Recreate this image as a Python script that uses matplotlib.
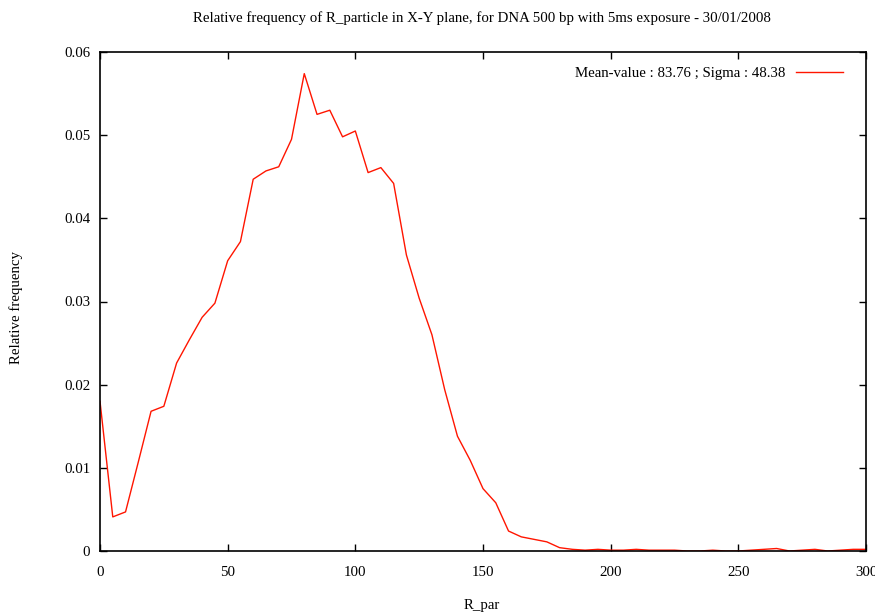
import numpy as np
import matplotlib
matplotlib.use('Agg')
import matplotlib.pyplot as plt

# R_par bins (step 5) and relative frequency
r_par = list(range(0, 305, 5))
rel_freq = [0.0180, 0.0041, 0.0047, 0.0107, 0.0168, 0.0174, 0.0226, 0.0254, 0.0281, 0.0298,
            0.0349, 0.0372, 0.0447, 0.0457, 0.0462, 0.0495, 0.0574, 0.0525, 0.0530, 0.0498,
            0.0505, 0.0455, 0.0461, 0.0442, 0.0356, 0.0304, 0.0260, 0.0194, 0.0138, 0.0109,
            0.0075, 0.0058, 0.0024, 0.0017, 0.0014, 0.0011, 0.0004, 0.0002, 0.0001, 0.0002,
            0.0001, 0.0001, 0.0002, 0.0001, 0.0001, 0.0001, 0.0000, 0.0000, 0.0001, 0.0000,
            0.0000, 0.0001, 0.0002, 0.0003, 0.0000, 0.0001, 0.0002, 0.0000, 0.0001, 0.0002,
            0.0002]

legend_text = 'Mean-value : 83.76 ; Sigma : 48.38'
title = 'Relative frequency of R_particle in X-Y plane, for DNA 500 bp with 5ms exposure - 30/01/2008'

plt.rcParams['font.family'] = ['Liberation Serif', 'DejaVu Serif']
plt.rcParams['font.size'] = 10.7

fig = plt.figure(figsize=(8.75, 6.15), dpi=100)
ax = fig.add_axes([100/875, 1-551/615, 766/875, 499/615])

ax.plot(r_par, rel_freq, color='#ff1500', lw=1.0, label=legend_text)

ax.set_xlim(0, 300)
ax.set_ylim(0, 0.06)
ax.set_xticks([0, 50, 100, 150, 200, 250, 300])
ax.set_yticks([0, 0.01, 0.02, 0.03, 0.04, 0.05, 0.06])
ax.set_yticklabels(['0', '0.01', '0.02', '0.03', '0.04', '0.05', '0.06'])
ax.tick_params(direction='in', length=5, width=1, top=True, right=True)
ax.tick_params(axis='x', pad=11)
ax.tick_params(axis='y', pad=7)
for s in ax.spines.values():
    s.set_linewidth(1.2)

fig.text(482/875, 1 - 18/615, title, ha='center', va='center')
fig.text(482/875, 1 - 605/615, 'R_par', ha='center', va='center')
fig.text(16/875, 1 - 308/615, 'Relative frequency', rotation=90, ha='center', va='center')

leg = ax.legend(loc='upper right', bbox_to_anchor=(0.978, 0.983), frameon=False,
                markerfirst=False, handlelength=3.2, borderaxespad=0, handletextpad=0.7)

fig.savefig('out.png', dpi=100)
